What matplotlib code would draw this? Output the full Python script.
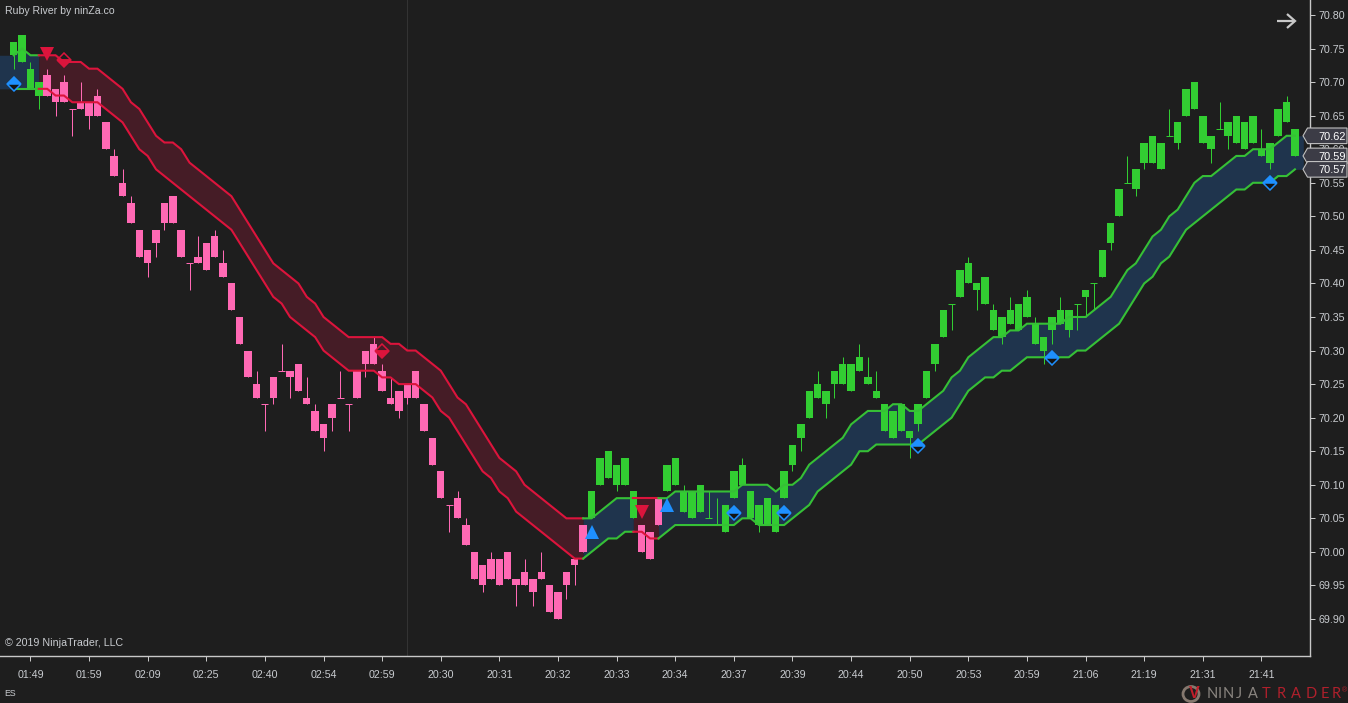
import matplotlib
matplotlib.use("Agg")
import matplotlib.pyplot as plt
from matplotlib.lines import Line2D
from matplotlib.patches import Ellipse, Polygon
from matplotlib.transforms import blended_transform_factory

# ---------- data ----------
time_labels = ["01:49","01:59","02:09","02:25","02:40","02:54","02:59","20:30","20:31","20:32","20:33",
               "20:34","20:37","20:39","20:44","20:50","20:53","20:59","21:06","21:19","21:31","21:41"]
price_ticks = [70.80,70.75,70.70,70.65,70.60,70.55,70.50,70.45,70.40,70.35,70.30,70.25,70.20,
               70.15,70.10,70.05,70.00,69.95,69.90]

body_top = [70.76,70.77,70.72,70.70,70.71,70.69,70.70,70.66,70.67,70.67,
            70.68,70.64,70.59,70.55,70.52,70.48,70.45,70.48,70.52,70.53,
            70.48,70.43,70.44,70.46,70.47,70.43,70.40,70.35,70.30,70.25,
            70.22,70.26,70.27,70.27,70.28,70.23,70.21,70.19,70.22,70.23,
            70.22,70.27,70.30,70.31,70.27,70.23,70.24,70.25,70.27,70.22,
            70.17,70.12,70.07,70.08,70.04,70.00,69.98,69.99,69.99,70.00,
            69.96,69.97,69.96,69.97,69.95,69.94,69.97,69.99,70.04,70.09,
            70.14,70.15,70.13,70.14,70.09,70.04,70.03,70.08,70.13,70.14,
            70.09,70.09,70.10,70.05,70.04,70.07,70.12,70.13,70.09,70.07,
            70.08,70.07,70.12,70.16,70.19,70.24,70.25,70.24,70.27,70.28,
            70.28,70.29,70.26,70.24,70.22,70.21,70.22,70.18,70.22,70.27,
            70.31,70.36,70.37,70.42,70.43,70.40,70.41,70.36,70.35,70.36,
            70.37,70.38,70.34,70.32,70.35,70.36,70.36,70.37,70.39,70.40,
            70.45,70.49,70.54,70.55,70.57,70.61,70.62,70.61,70.62,70.64,
            70.69,70.70,70.65,70.62,70.63,70.64,70.65,70.64,70.65,70.60,
            70.61,70.66,70.67,70.63]
body_bottom = [70.74,70.73,70.69,70.68,70.68,70.67,70.67,70.66,70.66,70.65,
               70.65,70.60,70.56,70.53,70.49,70.44,70.43,70.46,70.49,70.49,
               70.44,70.43,70.43,70.42,70.44,70.41,70.36,70.31,70.26,70.23,
               70.22,70.23,70.27,70.26,70.24,70.22,70.18,70.17,70.20,70.23,
               70.22,70.23,70.28,70.28,70.24,70.22,70.21,70.23,70.23,70.18,
               70.13,70.08,70.07,70.05,70.01,69.96,69.95,69.96,69.95,69.96,
               69.95,69.95,69.94,69.96,69.91,69.90,69.95,69.98,70.00,70.05,
               70.10,70.11,70.10,70.10,70.05,70.00,69.99,70.04,70.09,70.10,
               70.06,70.05,70.06,70.05,70.04,70.03,70.08,70.10,70.05,70.04,
               70.04,70.03,70.08,70.13,70.17,70.20,70.23,70.22,70.25,70.25,
               70.24,70.27,70.25,70.23,70.18,70.17,70.18,70.17,70.19,70.23,
               70.28,70.32,70.37,70.38,70.40,70.39,70.37,70.33,70.32,70.34,
               70.33,70.35,70.31,70.30,70.33,70.34,70.33,70.37,70.38,70.40,
               70.41,70.46,70.50,70.55,70.54,70.58,70.58,70.57,70.62,70.61,
               70.65,70.66,70.61,70.60,70.63,70.62,70.61,70.60,70.61,70.59,
               70.58,70.62,70.64,70.59]
wick_high = {2:70.73,4:70.72,6:70.71,8:70.70,10:70.69,12:70.60,13:70.57,14:70.53,22:70.47,24:70.48,25:70.45,
             29:70.27,32:70.31,35:70.26,36:70.22,39:70.27,43:70.32,44:70.28,45:70.26,53:70.09,54:70.05,
             57:70.00,61:69.99,63:70.00,80:70.10,83:70.09,84:70.08,87:70.14,96:70.27,99:70.29,101:70.31,
             102:70.29,103:70.27,114:70.44,117:70.37,119:70.38,121:70.39,122:70.35,125:70.38,133:70.59,
             138:70.66,144:70.67,149:70.63,152:70.68}
wick_low = {0:70.72,3:70.66,5:70.65,7:70.62,9:70.63,16:70.41,17:70.44,18:70.48,21:70.39,30:70.18,31:70.22,
            33:70.23,37:70.15,38:70.18,40:70.18,42:70.26,46:70.20,47:70.22,52:70.03,56:69.94,60:69.92,
            62:69.92,66:69.93,67:69.95,72:70.09,89:70.03,93:70.12,94:70.15,97:70.20,98:70.23,107:70.14,
            108:70.18,110:70.27,112:70.33,115:70.36,118:70.31,123:70.28,124:70.31,126:70.32,127:70.33,
            128:70.35,129:70.36,131:70.45,134:70.53,135:70.57,139:70.60,143:70.58,145:70.60,150:70.57}
band_upper = [70.74,70.75,70.74,70.74,70.74,70.74,70.73,70.73,70.73,70.72,
              70.72,70.71,70.70,70.69,70.67,70.66,70.64,70.62,70.61,70.61,
              70.60,70.58,70.57,70.56,70.55,70.54,70.53,70.51,70.49,70.47,
              70.45,70.43,70.42,70.41,70.40,70.38,70.37,70.35,70.34,70.33,
              70.32,70.32,70.32,70.32,70.32,70.31,70.31,70.30,70.30,70.29,
              70.28,70.27,70.25,70.23,70.22,70.20,70.18,70.16,70.14,70.13,
              70.12,70.10,70.09,70.08,70.07,70.06,70.05,70.05,70.05,70.05,
              70.06,70.07,70.08,70.08,70.08,70.08,70.08,70.08,70.08,70.09,
              70.09,70.09,70.09,70.09,70.09,70.09,70.09,70.10,70.10,70.10,
              70.10,70.09,70.10,70.10,70.11,70.13,70.14,70.15,70.16,70.17,
              70.19,70.20,70.21,70.21,70.21,70.22,70.22,70.21,70.21,70.22,
              70.23,70.24,70.26,70.27,70.29,70.30,70.31,70.32,70.32,70.33,
              70.33,70.34,70.34,70.34,70.34,70.34,70.35,70.35,70.35,70.36,
              70.37,70.38,70.40,70.42,70.43,70.45,70.47,70.48,70.50,70.51,
              70.53,70.55,70.56,70.56,70.57,70.58,70.59,70.59,70.60,70.60,
              70.60,70.61,70.62,70.62]
band_lower = [70.69,70.69,70.69,70.69,70.69,70.68,70.68,70.67,70.67,70.67,
              70.67,70.66,70.65,70.64,70.62,70.60,70.59,70.57,70.56,70.55,
              70.54,70.53,70.52,70.51,70.50,70.49,70.48,70.46,70.44,70.42,
              70.40,70.38,70.37,70.35,70.34,70.33,70.32,70.30,70.29,70.28,
              70.27,70.27,70.27,70.27,70.26,70.26,70.25,70.25,70.25,70.24,
              70.23,70.21,70.20,70.18,70.16,70.14,70.12,70.11,70.09,70.08,
              70.06,70.05,70.04,70.03,70.02,70.01,70.00,69.99,69.99,70.00,
              70.01,70.02,70.02,70.03,70.03,70.03,70.02,70.02,70.03,70.04,
              70.04,70.04,70.04,70.04,70.04,70.04,70.04,70.05,70.05,70.04,
              70.04,70.04,70.04,70.05,70.06,70.07,70.09,70.10,70.11,70.12,
              70.13,70.15,70.15,70.16,70.16,70.16,70.16,70.16,70.16,70.17,
              70.18,70.19,70.20,70.22,70.24,70.25,70.26,70.26,70.27,70.27,
              70.28,70.29,70.29,70.29,70.29,70.29,70.29,70.30,70.30,70.31,
              70.32,70.33,70.34,70.36,70.38,70.40,70.41,70.43,70.44,70.46,
              70.48,70.49,70.50,70.51,70.52,70.53,70.54,70.54,70.55,70.55,
              70.55,70.56,70.56,70.57]
down_runs = [(4, 68), (75, 77)]           # bars in the bearish (red) state
diamond_bull_i = [0, 86, 92, 108, 124, 150]
diamond_bull_p = [70.697, 70.058, 70.058, 70.158, 70.289, 70.55]
diamond_bear_i = [6, 44]
diamond_bear_p = [70.733, 70.30]
triangle_up_i = [69, 78]
triangle_up_p = [70.03, 70.07]
triangle_down_i = [4, 75]
triangle_down_p = [70.742, 70.06]
tag_prices = [70.62, 70.59, 70.57]

# ---------- styles ----------
W, H = 1348, 703
BG = "#1e1e1e"; AXC = "#c8c8c8"; TXT = "#c9ccd0"
GREEN = "#32cd32"; PINK = "#ff69b4"; RED = "#dc143c"; LGREEN = "#36c036"; BLUE = "#1e90ff"
FBLUE = "#1f344d"; FRED = "#451c26"
FONT = "Liberation Sans"
PX = 72 / 100  # points per pixel

fig = plt.figure(figsize=(W / 100, H / 100), dpi=100, facecolor=BG)
ax = fig.add_axes([0, (H - 656) / H, 1310 / W, 656 / H], facecolor=BG)
X0, DX = 13.7, 8.374
ax.set_xlim(-X0 / DX, (1310 - X0) / DX)
ax.set_ylim(70.80 - 641 / 671.1, 70.80 + 15 / 671.1)

n = len(body_top)
idx = list(range(n))
down = [any(a <= i <= b for a, b in down_runs) for i in idx]

# session divider
ax.axvline(47, color="#333333", lw=PX, zorder=0.5)

# runs of one state
runs = []
start = 0
for i in range(1, n + 1):
    if i == n or down[i] != down[start]:
        runs.append((start, i - 1, down[start]))
        start = i

# band fill, reaching past the first and last bars
xf = [-2] + idx + [n]
uf = [band_upper[0]] + band_upper + [band_upper[-1]]
lf = [band_lower[0]] + band_lower + [band_lower[-1]]
for a, b, d in runs:
    s = a
    e = b + 3 if b == n - 1 else b + 2
    ax.fill_between(xf[s:e], lf[s:e], uf[s:e], color=FRED if d else FBLUE, lw=0, zorder=1)

# candles
for i in idx:
    c = PINK if down[i] else GREEN
    hi = wick_high.get(i, body_top[i])
    lo = wick_low.get(i, body_bottom[i])
    if hi != lo:
        ax.vlines(i, lo, hi, color=c, lw=PX, zorder=2)
    if body_top[i] == body_bottom[i]:
        ax.hlines(body_top[i], i - 0.42, i + 0.42, color=c, lw=PX, zorder=2)
    else:
        ax.bar(i, body_top[i] - body_bottom[i], bottom=body_bottom[i], width=7.4 / DX, color=c, lw=0, zorder=2)

# band lines
for a, b, d in runs:
    s = max(a - 1, 0)
    for band in (band_upper, band_lower):
        ax.plot(idx[s:b + 1], band[s:b + 1], color=RED if d else LGREEN, lw=1.5,
                solid_joinstyle="miter", zorder=3)

# signals
ax.plot(triangle_up_i, triangle_up_p, ls="", marker="^", ms=10.5, color=BLUE, mew=0, zorder=4)
ax.plot(triangle_down_i, triangle_down_p, ls="", marker="v", ms=10.5, color=RED, mew=0, zorder=4)
ax.plot(diamond_bull_i, diamond_bull_p, ls="", marker="D", ms=7.2, mfc=BLUE, mfcalt="#141414", mec=BLUE,
        mew=1.1, fillstyle="top", zorder=4)
ax.plot(diamond_bear_i, diamond_bear_p, ls="", marker="D", ms=7.2, mfc=RED, mfcalt="none", mec=RED,
        mew=1.1, fillstyle="bottom", zorder=4)

# axes
for s in ("top", "left"):
    ax.spines[s].set_visible(False)
for s in ("right", "bottom"):
    ax.spines[s].set_color(AXC)
    ax.spines[s].set_linewidth(1.0)
ax.yaxis.tick_right()
ax.set_yticks(price_ticks, [f"{p:.2f}" for p in price_ticks])
ax.set_xticks([2 + 7 * k for k in range(len(time_labels))], time_labels)
ax.tick_params(axis="y", length=3.6, width=PX, color=AXC, labelcolor=TXT, labelsize=7.7, pad=2.2)
ax.tick_params(axis="x", length=3.6, width=PX, color=AXC, labelcolor=TXT, labelsize=7.7, pad=6.5)
for t in ax.get_xticklabels() + ax.get_yticklabels():
    t.set_fontfamily(FONT)

# last-value tags
tr = blended_transform_factory(ax.transAxes, ax.transData)
hh = 7.8 / 671.1
x1, x2, x3 = 1303 / 1310, 1307.5 / 1310, 1347 / 1310
for p in tag_prices:
    ax.add_patch(Polygon([(x1, p), (x2, p + hh), (x3, p + hh), (x3, p - hh), (x2, p - hh)], closed=True,
                         transform=tr, fc="#3c3c46", ec="#c0c0c0", lw=0.8, clip_on=False, zorder=10))
    ax.text(1318 / 1310, p, f"{p:.2f}", transform=tr, color="#ffffff", fontsize=7.9, family=FONT,
            va="center_baseline", ha="left", zorder=11, clip_on=False)


def fx(x):
    return x / W


def fy(y):
    return 1 - y / H


# captions
fig.text(fx(5), fy(11), "Ruby River by ninZa.co", color=TXT, fontsize=7.6, family=FONT, va="center")
fig.text(fx(5), fy(643), "\u00a9 2019 NinjaTrader, LLC", color=TXT, fontsize=7.7, family=FONT, va="center")
fig.text(fx(4), fy(694), "ES", color=TXT, fontsize=6.3, family=FONT, va="center")

# arrow icon
for xs, ys in (([1277, 1295], [21, 21]), ([1287, 1295, 1287], [14, 21, 28])):
    fig.add_artist(Line2D([fx(v) for v in xs], [fy(v) for v in ys], color=AXC, lw=1.6,
                          solid_joinstyle="miter", solid_capstyle="butt"))

# vendor logo
fig.add_artist(Ellipse((fx(1191), fy(694)), 16 / W, 15 / H, fc="none", ec="#85786e", lw=2))
fig.text(fx(1194), fy(694), "V", color="#c01e2a", fontsize=11.5, family=FONT, weight="bold",
         ha="center", va="center")
logo_ninja = zip("NINJA", [1212, 1219.5, 1228, 1239, 1252.5])
logo_trader = zip("TRADER", [1266.5, 1281, 1295.5, 1311, 1325, 1336])
for ch, x in logo_ninja:
    fig.text(fx(x), fy(693.5), ch, color="#8a8580", fontsize=10.5, family="Lato",
             ha="center", va="center")
for ch, x in logo_trader:
    fig.text(fx(x), fy(693.5), ch, color="#b0202c", fontsize=10.5, family="Lato",
             ha="center", va="center")
fig.text(fx(1344), fy(691), "\u00ae", color="#b0202c", fontsize=5, family=FONT, ha="center", va="center")

fig.savefig("out.png", dpi=100, facecolor=BG)
